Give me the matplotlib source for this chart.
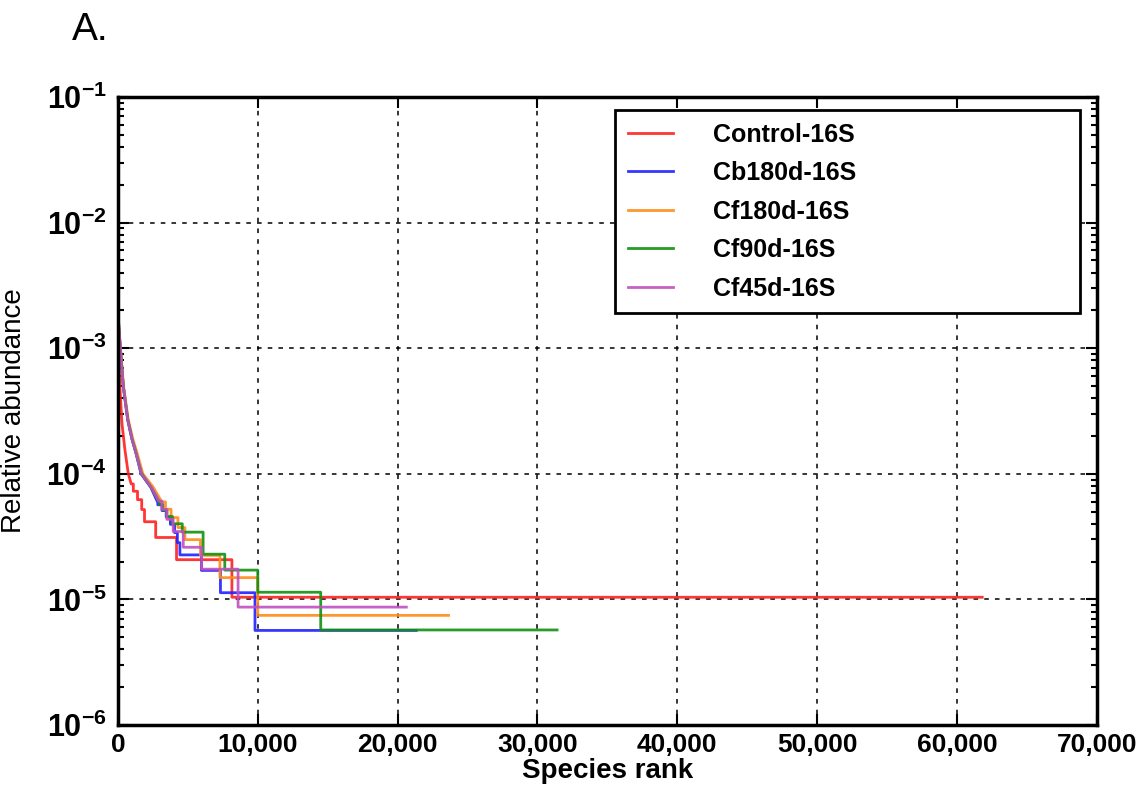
import numpy as np
import matplotlib
matplotlib.use("Agg")
import matplotlib.pyplot as plt
from matplotlib.ticker import FuncFormatter, LogLocator, FixedLocator

plt.rcParams['font.family'] = ['Liberation Sans', 'DejaVu Sans']
plt.rcParams['mathtext.fontset'] = 'custom'
plt.rcParams['mathtext.rm'] = 'Liberation Sans:bold'
plt.rcParams['mathtext.bf'] = 'Liberation Sans:bold'

# rank-abundance data
# smooth head of each curve (rank, relative abundance)
red_head_r = [1, 30, 80, 150, 290, 500, 740, 950]
red_head_v = [2.0e-3, 1.2e-3, 7.0e-4, 4.7e-4, 2.5e-4, 1.55e-4, 1.0e-4, 8.3e-5]
blue_head_r = [1, 60, 170, 380, 700, 1000, 1300, 1650, 2350, 2850]
blue_head_v = [2.2e-3, 1.5e-3, 1.0e-3, 5.0e-4, 2.7e-4, 1.9e-4, 1.45e-4, 1.0e-4, 7.8e-5, 5.9e-5]
orange_head_r = [1, 60, 180, 400, 740, 1060, 1380, 1780, 2500, 3050]
orange_head_v = [2.0e-3, 1.5e-3, 1.0e-3, 5.0e-4, 2.7e-4, 1.9e-4, 1.45e-4, 1.0e-4, 7.9e-5, 6.2e-5]
green_head_r = [1, 60, 170, 380, 700, 1000, 1300, 1690, 2400, 2950]
green_head_v = [2.0e-3, 1.45e-3, 1.0e-3, 5.0e-4, 2.7e-4, 1.9e-4, 1.45e-4, 1.0e-4, 7.7e-5, 6.0e-5]
purple_head_r = [1, 60, 170, 380, 700, 1000, 1300, 1680, 2380, 2900]
purple_head_v = [2.1e-3, 1.5e-3, 1.0e-3, 5.0e-4, 2.7e-4, 1.9e-4, 1.45e-4, 1.0e-4, 7.8e-5, 6.1e-5]

# step tail: rank where each level starts, level value, last rank
red_step_r = [950, 1100, 1400, 1700, 1900, 2700, 4190, 8150]
red_step_v = [8.3e-5, 7.26e-5, 6.22e-5, 5.19e-5, 4.15e-5, 3.11e-5, 2.07e-5, 1.04e-5]
red_end = 61800
blue_step_r = [2850, 3150, 3450, 3750, 4050, 4250, 4430, 5970, 7330, 9800]
blue_step_v = [5.66e-5, 5.09e-5, 4.53e-5, 3.96e-5, 3.40e-5, 2.83e-5, 2.26e-5, 1.70e-5, 1.13e-5, 5.66e-6]
blue_end = 21330
orange_step_r = [3050, 3400, 3800, 4290, 4790, 5900, 7290, 10000]
orange_step_v = [5.97e-5, 5.22e-5, 4.48e-5, 3.73e-5, 2.99e-5, 2.24e-5, 1.49e-5, 7.46e-6]
orange_end = 23640
green_step_r = [2950, 3200, 3500, 3900, 4600, 6090, 7640, 10000, 14500]
green_step_v = [5.71e-5, 5.14e-5, 4.57e-5, 4.0e-5, 3.43e-5, 2.29e-5, 1.71e-5, 1.14e-5, 5.71e-6]
green_end = 31400
purple_step_r = [2900, 3150, 3500, 3950, 4670, 5980, 8590]
purple_step_v = [6.07e-5, 5.2e-5, 4.34e-5, 3.47e-5, 2.6e-5, 1.74e-5, 8.68e-6]
purple_end = 20620

labels = ['Control-16S', 'Cb180d-16S', 'Cf180d-16S', 'Cf90d-16S', 'Cf45d-16S']
colors = ['#ff2020', '#2020ff', '#ff8c1a', '#109010', '#c050c0']


def build(head_r, head_v, step_r, step_v, end_r):
    x = list(head_r)
    y = list(head_v)
    for i in range(len(step_r)):
        nxt = step_r[i + 1] if i + 1 < len(step_r) else end_r
        x += [step_r[i], nxt]
        y += [step_v[i], step_v[i]]
    return x, y


series = [
    build(red_head_r, red_head_v, red_step_r, red_step_v, red_end),
    build(blue_head_r, blue_head_v, blue_step_r, blue_step_v, blue_end),
    build(orange_head_r, orange_head_v, orange_step_r, orange_step_v, orange_end),
    build(green_head_r, green_head_v, green_step_r, green_step_v, green_end),
    build(purple_head_r, purple_head_v, purple_step_r, purple_step_v, purple_end),
]

fig = plt.figure(figsize=(11.45, 7.87), dpi=100)
ax = fig.add_axes([0.103, 0.0788, 0.855, 0.798])

for (x, y), lab, c in zip(series, labels, colors):
    ax.plot(x, y, color=c, lw=2, alpha=0.9, label=lab)

ax.set_yscale('log')
ax.set_xlim(0, 70000)
ax.set_ylim(1e-6, 1e-1)
ax.xaxis.set_major_locator(FixedLocator(np.arange(0, 70001, 10000)))
ax.xaxis.set_major_formatter(FuncFormatter(lambda v, p: '{:,}'.format(int(v))))
ax.yaxis.set_major_locator(LogLocator(base=10, numticks=10))
ax.yaxis.set_minor_locator(LogLocator(base=10, subs=np.arange(2, 10), numticks=10))
ax.yaxis.set_major_formatter(FuncFormatter(lambda v, p: r'$\mathbf{10^{%d}}$' % int(round(np.log10(v)))))

ax.grid(True, which='major', color='black', linestyle=(0, (3, 4)), lw=1.1)
ax.tick_params(which='both', direction='in', top=True, right=True, width=1.5)
ax.tick_params(which='major', length=8)
ax.tick_params(which='minor', length=4)
ax.tick_params(axis='x', labelsize=19, pad=6)
ax.tick_params(axis='y', labelsize=22, pad=8)
for lab in ax.get_xticklabels():
    lab.set_fontweight('bold')
for s in ax.spines.values():
    s.set_linewidth(2.5)

ax.set_xlabel('Species rank', fontsize=20, fontweight='bold', va='top')
ax.xaxis.set_label_coords(0.5, -0.053)
ax.set_ylabel('Relative abundance', fontsize=20)
ax.yaxis.set_label_coords(-0.093, 0.5)

leg = ax.legend(loc='upper left', bbox_to_anchor=(0.508, 0.667, 0.475, 0.312),
                mode='expand', borderaxespad=0, fancybox=False, edgecolor='black',
                framealpha=1, prop={'weight': 'bold', 'size': 18}, handlelength=1.8,
                handletextpad=1.6, labelspacing=0.58, borderpad=0.5)
leg.get_frame().set_linewidth(2)

fig.text(0.063, 0.962, 'A.', fontsize=28, va='center')

fig.savefig('out.png', dpi=100)
